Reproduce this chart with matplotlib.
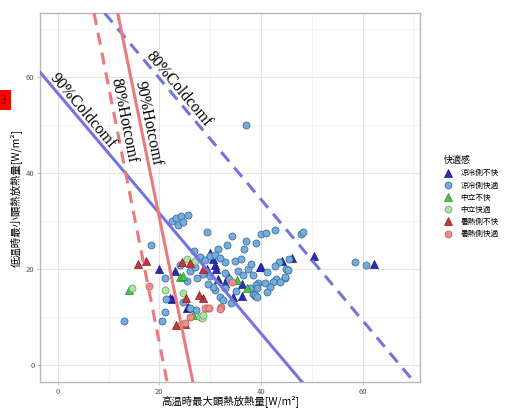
import math

import matplotlib
matplotlib.use("Agg")
import matplotlib.pyplot as plt
from matplotlib.lines import Line2D

plt.rcParams["font.family"] = ["Noto Sans CJK JP", "DejaVu Sans"]

# comfort categories (legend order)
categories = ["涼冷側不快", "涼冷側快適", "中立不快", "中立快適", "暑熱側不快", "暑熱側快適"]

cold_uncomf_x = [19.9, 23.0, 22.4, 25.5, 29.9, 30.9, 29.4, 31.2, 40.1, 31.6, 36.2, 32.9, 36.2,
                 34.5, 25.7, 50.4, 46.2, 44.2, 62.2, 30.5, 33.5, 22.0, 39.8]
cold_uncomf_y = [20.1, 19.7, 13.7, 11.8, 23.3, 20.8, 20.0, 20.0, 20.5, 17.9, 17.0, 17.1, 14.4,
                 14.1, 12.2, 22.7, 22.4, 21.7, 21.0, 22.0, 18.5, 14.0, 20.5]

cold_comf_x = [37.0, 18.4, 13.1, 20.5, 21.1, 21.1, 21.4, 22.4, 23.2, 24.2, 25.7, 23.7, 24.7,
               29.3, 34.2, 37.0, 39.1, 40.1, 40.9, 42.8, 47.8, 48.3, 33.3, 36.6, 31.6, 26.8,
               34.8, 32.9, 41.1, 32.9, 38.4, 24.0, 39.4, 38.4, 38.9, 30.9, 31.9, 32.5, 24.7,
               30.6, 27.3, 26.1, 45.5, 43.6, 42.7, 45.0, 45.4, 44.7, 58.5, 60.6, 43.0, 43.7,
               42.4, 44.7, 41.7, 41.1, 40.7, 39.0, 39.2, 38.8, 39.2, 37.8, 28.0, 29.0, 30.0,
               31.0, 32.0, 28.5, 27.5, 30.0, 29.5, 33.8, 35.5, 36.5, 26.0, 27.0, 25.5, 33.0,
               35.0, 34.0, 37.5, 38.0, 36.0]
cold_comf_y = [50.0, 25.1, 9.2, 9.2, 18.2, 11.1, 13.7, 30.1, 30.6, 31.0, 31.2, 29.2, 29.9,
               27.7, 26.9, 25.8, 25.5, 27.4, 27.6, 28.1, 27.2, 27.8, 25.1, 24.1, 24.2, 23.8,
               21.7, 21.5, 19.4, 19.1, 18.7, 20.8, 17.1, 14.8, 14.4, 15.6, 14.2, 13.5, 13.2,
               16.2, 11.5, 12.0, 22.0, 21.5, 20.6, 20.1, 19.9, 18.1, 21.5, 20.8, 18.0, 17.4,
               17.4, 18.3, 16.2, 15.3, 17.1, 16.7, 16.0, 14.6, 14.1, 16.0, 22.5, 21.8, 22.8,
               23.0, 22.3, 19.0, 18.2, 18.5, 17.0, 18.0, 19.5, 18.8, 19.5, 20.5, 17.5, 16.0,
               15.5, 13.0, 20.0, 21.0, 22.0]

neutral_uncomf_x = [14.0, 24.0, 24.7, 35.2, 37.3, 26.6]
neutral_uncomf_y = [15.6, 18.4, 18.5, 17.7, 16.0, 10.4]

neutral_comf_x = [14.7, 21.2, 28.0, 27.0, 24.7, 24.3, 28.3, 28.6, 25.5]
neutral_comf_y = [16.1, 15.7, 10.0, 21.7, 15.1, 8.5, 9.9, 10.4, 22.0]

hot_uncomf_x = [15.7, 17.3, 26.0, 25.3, 28.5, 23.2, 25.0, 28.6, 27.8, 24.5]
hot_uncomf_y = [21.0, 21.7, 21.3, 13.9, 13.9, 8.3, 8.5, 20.1, 14.7, 21.5]

hot_comf_x = [18.0, 34.2, 32.2, 29.3, 31.9, 25.0, 28.9, 29.8, 26.0]
hot_comf_y = [16.5, 17.4, 12.2, 12.0, 11.7, 8.7, 12.0, 12.0, 10.0]

# comfort boundary lines: y = intercept + slope * x
line_labels = ["90%Coldcomf", "80%Coldcomf", "90%Hotcomf", "80%Hotcomf"]
line_intercepts = [56.6, 84.9, 134.5, 111.4]
line_slopes = [-1.25, -1.26, -5.19, -5.34]
label_x = [3.8, 22.6, 16.3, 11.4]

series = [
    (cold_uncomf_x, cold_uncomf_y, "^", "#2B2BB3", "#1A1A80"),
    (cold_comf_x, cold_comf_y, "o", "#74ACDD", "#35648F"),
    (neutral_uncomf_x, neutral_uncomf_y, "^", "#49C449", "#2A8A2A"),
    (neutral_comf_x, neutral_comf_y, "o", "#AEE3A6", "#5FA65A"),
    (hot_uncomf_x, hot_uncomf_y, "^", "#C93340", "#8A1E28"),
    (hot_comf_x, hot_comf_y, "o", "#EC8E8E", "#B05A5A"),
]

line_colors = ["#7474DE", "#7474DE", "#EB7A7A", "#EB7A7A"]
line_styles = ["-", (0, (4, 2.6)), "-", (0, (4, 2.6))]

fig = plt.figure(figsize=(5.05, 4.08), dpi=100)
ax = fig.add_axes([40 / 505, 1 - 382 / 408, 380 / 505, 369 / 408])

ax.set_xlim(-3.5, 71.3)
ax.set_ylim(-3.5, 73.3)
ax.set_xticks([0, 20, 40, 60])
ax.set_yticks([0, 20, 40, 60])
ax.set_xticks([10, 30, 50, 70], minor=True)
ax.set_yticks([10, 30, 50, 70], minor=True)
ax.grid(True, which="major", color="#E3E3E3", linewidth=0.8)
ax.grid(True, which="minor", color="#F0F0F0", linewidth=0.5)
ax.tick_params(which="major", length=2.5, width=0.6, color="#B3B3B3",
               labelsize=5.5, labelcolor="#555555", pad=1.5)
ax.tick_params(which="minor", length=0)
for s in ax.spines.values():
    s.set_color("#B8B8B8")
    s.set_linewidth(1.0)
ax.set_axisbelow(True)

for xs, ys, m, fc, ec in series:
    ax.scatter(xs, ys, marker=m, s=26 if m == "o" else 34, facecolor=fc,
               edgecolor=ec, linewidth=0.5, zorder=3)

for lab, a, b, c, ls, lx in zip(line_labels, line_intercepts, line_slopes,
                                line_colors, line_styles, label_x):
    ax.axline((0, a), slope=b, color=c, linestyle=ls, linewidth=2.2, zorder=4)
    ang = math.degrees(math.atan(b))
    ax.text(lx, a + b * lx, lab, rotation=ang, transform_rotates_text=True,
            rotation_mode="anchor", ha="center", va="bottom",
            family="Liberation Serif", fontsize=11.5, zorder=5)

ax.set_xlabel("高温時最大顕熱放熱量[W/m²]", fontsize=7.5, va="center")
ax.xaxis.set_label_coords(0.5, -19 / 369)
ax.set_ylabel("低温時最小顕熱放熱量[W/m²]", fontsize=7.5, labelpad=3)

handles = [Line2D([], [], linestyle="none", marker=m, markersize=5 if m == "o" else 6,
                  markerfacecolor=fc, markeredgecolor=ec, markeredgewidth=0.5)
           for _, _, m, fc, ec in series]
leg = fig.legend(handles, categories, title="快適感", loc="upper left",
                 bbox_to_anchor=(437 / 505, 1 - 149 / 408), frameon=False,
                 fontsize=5.5, title_fontsize=6.5, handlelength=1.0,
                 handletextpad=1.2, labelspacing=0.55)
leg._legend_box.align = "left"

fig.text(0.0, 1 - 100 / 408, "3", fontsize=9, color="#600000", va="center",
         ha="left", bbox=dict(boxstyle="square,pad=0.3", fc="#FF0000", ec="none"))

fig.savefig("out.png", dpi=100)
